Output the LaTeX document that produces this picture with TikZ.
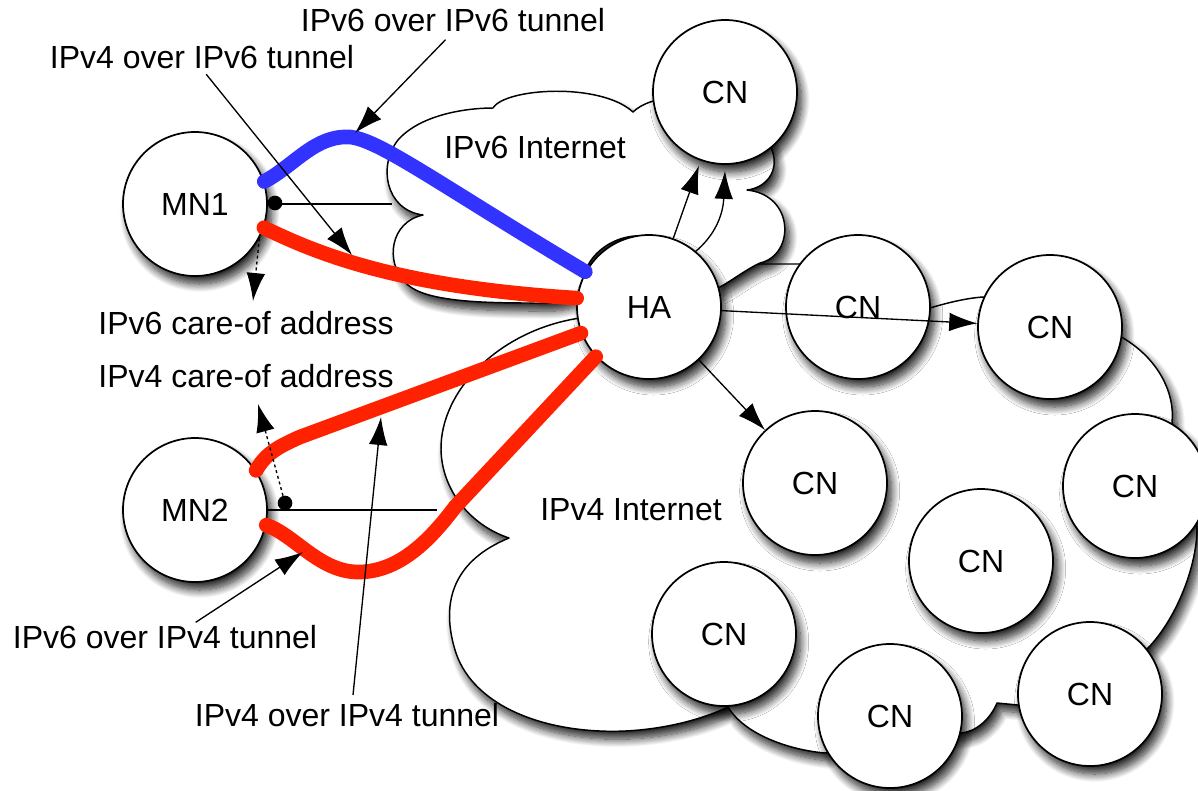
\documentclass[tikz,border=0pt]{standalone}
\usepackage{fontspec}
\setmainfont{Liberation Sans}
\usetikzlibrary{arrows.meta,shadows.blur}
\definecolor{tblue}{RGB}{51,51,255}
\definecolor{tred}{RGB}{255,34,0}
\begin{document}
\begin{tikzpicture}[x=0.75pt,y=-0.75pt,
  shadowed/.style={blur shadow={shadow xshift=3.5pt,shadow yshift=-6pt,shadow blur radius=6pt,shadow blur steps=12,shadow opacity=85}},
  host/.style={circle,draw=black,line width=1.3pt,fill=white,minimum size=108pt,inner sep=0pt,shadowed,font=\fontsize{24}{28}\selectfont},
  cloudshape/.style={draw=black,line width=1.1pt,fill=white,line join=round,shadowed},
  lbl/.style={inner sep=0pt,font=\fontsize{24}{28}\selectfont},
  dotn/.style={circle,fill=black,inner sep=0pt,minimum size=11pt},
  conn/.style={draw=black,line width=1pt},
  arr/.style={conn,-{Latex[length=21pt,width=14pt]}},
  dotarr/.style={arr,dash pattern=on 2.2pt off 2.2pt},
  tunnelsix/.style={draw=tblue,line width=11pt,line cap=round},
  tunnelfour/.style={draw=tred,line width=11pt,line cap=round}]
\useasboundingbox (0,0) rectangle (1198,790);

% IPv4 Internet cloud
\path[cloudshape] (705,275) -- (740,264) -- (800,264) -- (820,272) -- (930,308)
  .. controls (950,302) and (968,298) .. (983,297)
  -- (1050,300) -- (1123,338)
  .. controls (1160,360) and (1175,395) .. (1172,422)
  -- (1185,470) -- (1197,530)
  .. controls (1196,570) and (1175,620) .. (1148,648)
  -- (1090,700) -- (1018,705) -- (997,703)
  .. controls (990,720) and (975,732) .. (961,733)
  -- (890,740) -- (825,753)
  .. controls (790,750) and (745,735) .. (728,707)
  .. controls (690,725) and (640,733) .. (600,731)
  .. controls (530,728) and (470,700) .. (455,650)
  .. controls (440,600) and (455,560) .. (509,538)
  .. controls (470,525) and (442,490) .. (441,450)
  .. controls (440,390) and (500,330) .. (580,318)
  -- cycle;

% IPv6 Internet cloud
\path[cloudshape] (423,215)
  .. controls (385,210) and (378,165) .. (398,140)
  .. controls (420,115) and (465,108) .. (493,108)
  .. controls (505,88) and (600,82) .. (633,112)
  .. controls (650,95) and (700,90) .. (725,110)
  .. controls (750,125) and (770,135) .. (772,150)
  .. controls (780,172) and (765,188) .. (747,190)
  .. controls (795,195) and (795,255) .. (760,263)
  .. controls (745,270) and (730,282) .. (718,288)
  -- (670,245)
  .. controls (640,225) and (600,240) .. (587,267)
  .. controls (595,300) and (560,305) .. (530,303)
  .. controls (470,303) and (420,300) .. (405,282)
  .. controls (385,262) and (390,222) .. (423,215)
  -- cycle;

\node[lbl] (net6) at (535,147) {IPv6 Internet};
\node[lbl] (net4) at (631,510) {IPv4 Internet};

% hosts
\node[host] (mn1) at (195,204) {MN1};
\node[host] (mn2) at (195,510) {MN2};
\node[host] (ha)  at (649,307) {HA};
\node[host] (cn1) at (725,92)  {CN};
\node[host] (cn2) at (858,307) {CN};
\node[host] (cn3) at (1050,327) {CN};
\node[host] (cn4) at (815,483) {CN};
\node[host] (cn5) at (1135,486) {CN};
\node[host] (cn6) at (981,561) {CN};
\node[host] (cn7) at (724,634) {CN};
\node[host] (cn8) at (890,716) {CN};
\node[host] (cn9) at (1090,694) {CN};

% labels
\node[lbl] (l66) at (453,20) {IPv6 over IPv6 tunnel};
\node[lbl] (l46) at (202,57) {IPv4 over IPv6 tunnel};
\node[lbl] (coa6) at (246,323) {IPv6 care-of address};
\node[lbl] (coa4) at (246,376) {IPv4 care-of address};
\node[lbl] (l64) at (165,637) {IPv6 over IPv4 tunnel};
\node[lbl] (l44) at (347,715) {IPv4 over IPv4 tunnel};

% tunnels
\draw[tunnelsix] (mn1.18) .. controls (295,165) and (315,135) .. (350,137)
  .. controls (380,140) and (440,185) .. (ha.151);
\draw[tunnelfour] (mn1.-19) .. controls (320,255) and (400,287) .. (ha.173);
\draw[tunnelfour] (mn2.33) .. controls (265,455) and (275,448) .. (300,437) -- (ha.201);
\draw[tunnelfour] (mn2.-12) .. controls (295,535) and (320,573) .. (360,572)
  .. controls (400,571) and (430,540) .. (455,507) -- (ha.223);

% attachment points
\coordinate (e6) at (392,204);
\coordinate (e4) at (437,510);
\node[dotn] (d1) at (275,203) {};
\node[dotn] (d2) at (285,503) {};
\draw[conn] (mn1.east) -- (e6);
\draw[conn] (mn2.east) -- (e4);

% care-of address arrows
\coordinate (p6) at (253,301);
\coordinate (p4) at (258,404);
\draw[dotarr] (mn1.-28) -- (p6);
\draw[dotarr] (d2) -- (p4);

% tunnel label arrows
\coordinate (t66) at (355,133);
\coordinate (t46) at (352,255);
\coordinate (t64) at (303,552);
\coordinate (t44) at (381,417);
\draw[arr,shorten <=8pt] (l66.south) -- (t66);
\draw[arr,shorten <=5pt] (l46.south) -- (t46);
\draw[arr] ([xshift=23pt,yshift=2pt]l64.north) -- (t64);
\draw[arr] ([xshift=4.5pt,yshift=6pt]l44.north) -- (t44);

% HA to CN
\draw[arr,shorten >=4pt] (ha) -- (cn1);
\draw[arr] (ha.50) .. controls (715,235) and (723,215) .. ([yshift=-4.5pt]cn1.south);
\draw[arr] (ha) -- (cn3);
\draw[arr] (ha) -- (cn4);
\end{tikzpicture}
\end{document}
